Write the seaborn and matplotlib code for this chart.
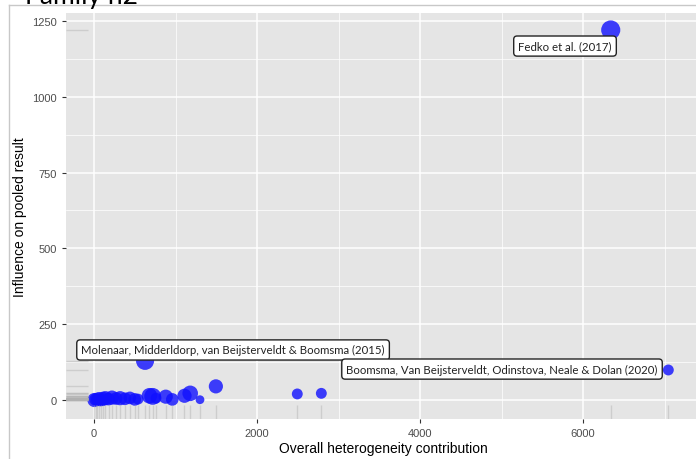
import matplotlib
matplotlib.use("Agg")
import matplotlib.pyplot as plt
import seaborn as sns
import pandas as pd
from matplotlib.lines import Line2D
from matplotlib.ticker import MultipleLocator

# ---- data ----
studies = [f"S{i}" for i in range(1, 27)] + [
    "Molenaar, Midderldorp, van Beijsterveldt & Boomsma (2015)",
    "Fedko et al. (2017)",
    "Boomsma, Van Beijsterveldt, Odinstova, Neale & Dolan (2020)",
]
heterogeneity = [5, 20, 40, 60, 85, 110, 140, 180, 220, 270, 320, 380, 440, 500,
                 540, 680, 720, 880, 960, 1110, 1180, 1300, 1495, 2494, 2789, 760,
                 626, 6340, 7047]
influence = [0, 2, 1, 3, 0, 4, 6, 3, 8, 5, 6, 4, 7, 2,
             3, 14, 12, 11, 2, 14, 22, 1, 45, 20, 22, 6,
             129, 1220, 99]
weight = [6, 5, 5, 6, 5, 6, 6, 5, 6, 5, 6, 5, 5, 5,
          4, 7, 8, 6, 5, 6, 7, 3, 6, 4, 4, 4,
          9, 10, 4]
label_studies = ["Fedko et al. (2017)",
                 "Molenaar, Midderldorp, van Beijsterveldt & Boomsma (2015)",
                 "Boomsma, Van Beijsterveldt, Odinstova, Neale & Dolan (2020)"]
label_x = [5779, 1706, 5006]
label_y = [1167, 165, 102]

df = pd.DataFrame({"study": studies, "x": heterogeneity, "y": influence, "w": weight})

plt.rcParams["font.family"] = ["Liberation Sans", "DejaVu Sans"]
fig = plt.figure(figsize=(6.96, 4.60), dpi=100)
ax = fig.add_axes([66/696, 1-420/460, (701.6-66)/696, (420-14)/460])
ax.set_facecolor("#E5E5E5")

ax.set_xlim(-344, 7455)
ax.set_ylim(-62.6, 1276)
ax.xaxis.set_major_locator(MultipleLocator(2000))
ax.xaxis.set_minor_locator(MultipleLocator(1000))
ax.yaxis.set_major_locator(MultipleLocator(250))
ax.yaxis.set_minor_locator(MultipleLocator(125))
ax.grid(which="major", color="white", linewidth=1.1)
ax.grid(which="minor", color="white", linewidth=0.5)
ax.set_axisbelow(True)
for s in ax.spines.values():
    s.set_visible(False)

sns.rugplot(data=df, x="x", y="y", ax=ax, color="#b0b0b0", alpha=0.45,
            height=0.035, linewidth=1)
sns.scatterplot(data=df, x="x", y="y", size="w", sizes=(40, 190), ax=ax,
                color="#1010ff", alpha=0.8, edgecolor="none", legend=False)

for name, lx, ly in zip(label_studies, label_x, label_y):
    ax.text(lx, ly, name, ha="center", va="center", fontsize=8.2,
            family=["Lato", "DejaVu Sans"], color="#222222",
            bbox=dict(boxstyle="round,pad=0.4,rounding_size=0.3",
                      facecolor="white", edgecolor="#222222", linewidth=1))

ax.tick_params(axis="both", which="major", length=3, color="#333333",
               labelcolor="#4d4d4d", labelsize=8, width=0.8)
ax.tick_params(which="minor", length=0)
ax.set_xlabel("Overall heterogeneity contribution", fontsize=10, color="black", labelpad=2)
ax.set_ylabel("Influence on pooled result", fontsize=10, color="black", labelpad=4)

# outer frame lines and title (partly above the top edge, as in the reference)
fig.add_artist(Line2D([9/696, 1], [1-6/460, 1-6/460], transform=fig.transFigure,
                      color="#c8c8c8", linewidth=1))
fig.add_artist(Line2D([9/696, 9/696], [0, 1-6/460], transform=fig.transFigure,
                      color="#c8c8c8", linewidth=1))
fig.text(25/696, 1-4/460, "Family h2", fontsize=19, ha="left", va="baseline",
         family=["Lato", "DejaVu Sans"], color="black")

fig.savefig("out.png", dpi=100)
